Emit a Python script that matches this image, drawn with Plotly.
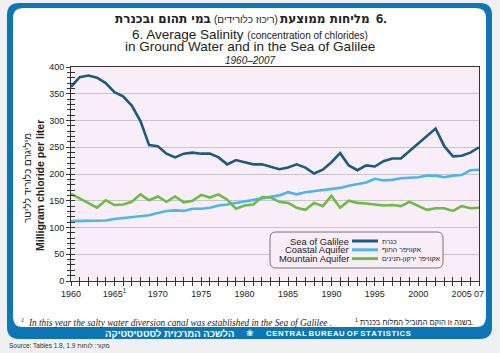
import plotly.graph_objects as go

years = list(range(1960, 2008))
sea_of_galilee = [363, 381, 384, 380, 370, 353, 345, 328, 299, 254,
                  252, 238, 231, 238, 240, 238, 238, 231, 218, 226,
                  222, 218, 218, 213, 209, 212, 218, 212, 201, 208,
                  222, 239, 216, 207, 216, 214, 224, 229, 229, 243,
                  257, 272, 285, 252, 233, 234, 240, 250]
coastal_aquifer = [112, 112, 112, 113, 113, 116, 118, 120, 121, 123,
                   127, 131, 132, 131, 135, 135, 137, 141, 143, 146,
                   149, 152, 155, 157, 160, 166, 162, 166, 168, 171,
                   173, 174, 178, 181, 184, 191, 188, 189, 192, 193,
                   194, 197, 197, 194, 197, 198, 207, 208]
mountain_aquifer = [163, 154, 146, 137, 151, 142, 143, 148, 162, 151,
                    158, 148, 158, 147, 150, 161, 156, 162, 152, 135,
                    141, 143, 157, 156, 148, 146, 137, 133, 146, 140,
                    159, 137, 150, 146, 145, 143, 141, 142, 140, 148,
                    140, 133, 136, 136, 131, 140, 136, 137]

series_names = ["Sea of Galilee", "Coastal Aquifer", "Mountain Aquifer"]
series_names_he = ["כנרת", "אקוויפר החוף", "אקוויפר ירקון-תנינים"]
series_colors = ["#1a5b80", "#4bb6ec", "#6cbb45"]

x_tick_vals = [1960, 1965, 1970, 1975, 1980, 1985, 1990, 1995, 2000, 2005, 2007]
x_tick_text = ["1960", "1965<sup>1</sup>", "1970", "1975", "1980", "1985", "1990",
               "1995", "2000", "2005", "07"]
y_tick_vals = [0, 50, 100, 150, 200, 250, 300, 350, 400]

W, H = 500, 353
L, R, T, B = 71, 479, 67, 281


def px(x):
    return (x - L) / (R - L)


def py(y):
    return (B - y) / (B - T)


def rrect(x0, y0, x1, y1, r):
    return (f"M {px(x0 + r)},{py(y0)} L {px(x1 - r)},{py(y0)} Q {px(x1)},{py(y0)} {px(x1)},{py(y0 + r)} "
            f"L {px(x1)},{py(y1 - r)} Q {px(x1)},{py(y1)} {px(x1 - r)},{py(y1)} "
            f"L {px(x0 + r)},{py(y1)} Q {px(x0)},{py(y1)} {px(x0)},{py(y1 - r)} "
            f"L {px(x0)},{py(y0 + r)} Q {px(x0)},{py(y0)} {px(x0 + r)},{py(y0)} Z")


fig = go.Figure()
for vals, name, col in zip([sea_of_galilee, coastal_aquifer, mountain_aquifer], series_names, series_colors):
    fig.add_trace(go.Scatter(x=years, y=vals, mode="lines", name=name,
                             line=dict(color=col, width=2.6), showlegend=False))

# invisible trace on second axis pair for inward tick marks
fig.add_trace(go.Scatter(x=years, y=sea_of_galilee, xaxis="x2", yaxis="y2", mode="lines",
                         line=dict(width=0), opacity=0, showlegend=False, hoverinfo="skip"))

font = "Liberation Sans, Arial, DejaVu Sans, sans-serif"
shapes = []
shapes.append(dict(type="path", path=rrect(7, 3, 492, 339, 12), xref="paper", yref="paper",
                   fillcolor="#0f76b5", line=dict(width=0), layer="below"))
shapes.append(dict(type="path", path=rrect(13, 8, 486, 327, 10), xref="paper", yref="paper",
                   fillcolor="#ffffff", line=dict(width=0), layer="below"))
shapes.append(dict(type="rect", x0=0, x1=1, y0=0, y1=1, xref="paper", yref="paper",
                   fillcolor="#f9eef7", line=dict(width=0), layer="below"))
shapes.append(dict(type="path", path=rrect(270, 232, 443, 268, 6), xref="paper", yref="paper",
                   fillcolor="rgba(249,238,247,1)", line=dict(color="#555555", width=0.8)))

annotations = []
rows_y = [241, 249.8, 258.6]
for yy, name, he, col in zip(rows_y, series_names, series_names_he, series_colors):
    annotations.append(dict(x=px(351), y=py(yy), text=name, xanchor="right",
                            font=dict(family=font, size=9.4, color="#222222")))
    shapes.append(dict(type="line", x0=px(352), x1=px(378), y0=py(yy), y1=py(yy),
                       xref="paper", yref="paper", line=dict(color=col, width=3)))
    annotations.append(dict(x=px(380), y=py(yy), text=he, xanchor="left",
                            font=dict(family=font, size=7, color="#222222")))

hfont = dict(family="DejaVu Sans, Liberation Sans, sans-serif", size=12, color="#222222")
annotations += [
    # Hebrew title, laid out right-to-left in pieces
    dict(x=px(381), y=py(19), text="<b>6.</b>", font=dict(family=font, size=13, color="#222222")),
    dict(x=px(325), y=py(19), text="<b>מליחות ממוצעת</b>", font=hfont),
    dict(x=px(245.5), y=py(19.5), text="(ריכוז כלורידים)",
         font=dict(family=font, size=10, color="#222222")),
    dict(x=px(162.5), y=py(19), text="<b>במי תהום ובכנרת</b>", font=hfont),
    dict(x=px(250), y=py(34.5), text="6. Average Salinity <span style='font-size:10px'>(concentration of chlorides)</span>",
         font=dict(family=font, size=13.5, color="#222222")),
    dict(x=px(250), y=py(46.5), text="in Ground Water and in the Sea of Galilee",
         font=dict(family=font, size=13.5, color="#222222")),
    dict(x=px(250), y=py(60), text="<i>1960–2007</i>",
         font=dict(family=font, size=10, color="#222222")),
    dict(x=px(40), y=py(186), text="<b>Milligram chloride per liter</b>", textangle=-90,
         font=dict(family=font, size=10.5, color="#222222")),
    dict(x=px(27), y=py(178), text="מיליגרם כלוריד לליטר", textangle=-90,
         font=dict(family=font, size=10, color="#222222")),
    dict(x=px(19), y=py(322), xanchor="left",
         text="<i><sup>1</sup>  In this year the salty water diversion canal was established in the Sea of Galilee .</i>",
         font=dict(family="Liberation Serif, serif", size=9.3, color="#222222")),
    dict(x=px(476), y=py(322), xanchor="right", text="<sup>1</sup> בשנה זו הוקם המוביל המלוח בכנרת.",
         font=dict(family=font, size=7.5, color="#222222")),
    dict(x=px(236), y=py(333), xanchor="right", text="<b>הלשכה המרכזית לסטטיסטיקה</b>",
         font=dict(family=font, size=9.5, color="#ffffff")),
    dict(x=px(250), y=py(333), text="<b>❀</b>",
         font=dict(family="DejaVu Sans", size=9, color="#ffffff")),
    dict(x=px(264), y=py(333), xanchor="left", text="<b>C E N T R A L  B U R E A U  O F  S T A T I S T I C S</b>".replace(" ", "\u200a").replace("\u200a\u200a", " "),
         font=dict(family=font, size=7.7, color="#ffffff")),
    dict(x=px(7), y=py(345), xanchor="left", text="Source: Tables 1.8, 1.9 מקור: לוחות",
         font=dict(family=font, size=6.5, color="#333333")),
]
for a in annotations:
    a.setdefault("xref", "paper")
    a.setdefault("yref", "paper")
    a.setdefault("showarrow", False)
    a.setdefault("xanchor", "center")
    a.setdefault("yanchor", "middle")

axis_common = dict(showline=True, linecolor="#333333", linewidth=1)
fig.update_layout(
    width=W, height=H,
    margin=dict(l=L, r=W - R, t=T, b=H - B, pad=0),
    paper_bgcolor="#eef0f2",
    plot_bgcolor="rgba(0,0,0,0)",
    shapes=shapes,
    annotations=annotations,
    xaxis=dict(range=[1960, 2007], tickvals=years,
               ticktext=[x_tick_text[x_tick_vals.index(y)] if y in x_tick_vals else "" for y in years],
               ticks="outside", ticklen=4, tickcolor="#333333", showgrid=False,
               tickfont=dict(family=font, size=9, color="#222222"),
               mirror=True, zeroline=False, **axis_common),
    yaxis=dict(range=[0, 400], tickvals=y_tick_vals, ticks="outside", ticklen=4, tickcolor="#333333",
               showgrid=True, gridcolor="#c9c4c9", gridwidth=1, zeroline=False, mirror=True,
               tickfont=dict(family=font, size=9, color="#222222"),
               minor=dict(dtick=10, ticks="outside", ticklen=3, tickcolor="#333333"),
               **axis_common),
    xaxis2=dict(range=[1960, 2007], overlaying="x", tickvals=years, ticks="inside", ticklen=4,
                tickcolor="#333333", showticklabels=False, showgrid=False, zeroline=False, showline=False),
    yaxis2=dict(range=[0, 400], overlaying="y", dtick=10, tick0=0, ticks="inside", ticklen=4,
                tickcolor="#333333", showticklabels=False, showgrid=False, zeroline=False, showline=False),
)
fig.write_html("out.html")
